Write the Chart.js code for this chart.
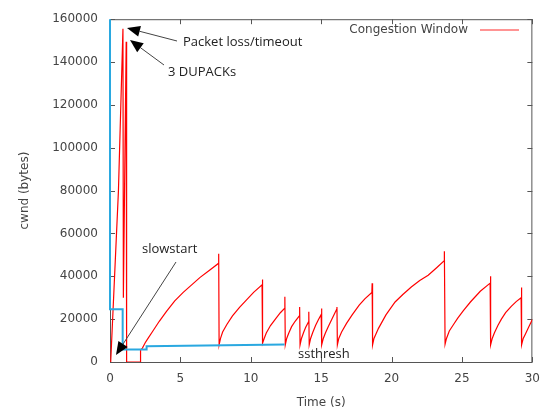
<!DOCTYPE html>
<html>
<head>
<meta charset="utf-8">
<script src="https://cdn.jsdelivr.net/npm/chart.js@4.4.0/dist/chart.umd.min.js"></script>
<style>
    html, body { margin: 0; padding: 0; background: #fff; }
    #wrap { width: 550px; height: 412px; }
</style>
</head>
<body>
<div id="wrap"><canvas id="cwndChart" width="550" height="412"></canvas></div>
<script>
// Congestion window trace (time in s, cwnd in bytes)
const cwndTime = [
    0.05, 0.6, 0.92, 0.95, 1.15, 1.18, 2.15, 2.17, 2.3, 2.38, 2.5,
    2.7, 3.0, 3.5, 4.0, 4.6, 5.2, 5.8, 6.4, 7.0, 7.7, 7.72, 7.75,
    7.85, 8.0, 8.3, 8.7, 9.2, 9.7, 10.2, 10.8, 10.82, 10.85,
    10.95, 11.1, 11.4, 11.8, 12.1, 12.4, 12.42, 12.45,
    12.55, 12.7, 12.9, 13.15, 13.45, 13.47, 13.5,
    13.6, 13.75, 13.9, 14.1, 14.12, 14.15,
    14.25, 14.4, 14.6, 14.8, 15.0, 15.02, 15.05,
    15.15, 15.3, 15.5, 15.8, 16.1, 16.12, 16.15,
    16.25, 16.45, 16.8, 17.2, 17.7, 18.1, 18.6, 18.62, 18.65,
    18.75, 19.07, 19.6, 20.25, 20.8, 21.4, 22.0, 22.6, 23.2, 23.73, 23.75, 23.8,
    23.9, 24.1, 24.4, 24.7, 25.1, 25.6, 26.3, 27.0, 27.02, 27.05,
    27.15, 27.3, 27.55, 27.8, 28.1, 28.5, 28.85, 29.2, 29.22, 29.25,
    29.35, 29.5, 29.75, 30.0
];
const cwndBytes = [
    0, 80000, 155500, 30000, 149500, 0, 0, 5500, 6500, 7500, 9000,
    11000, 14000, 19000, 23500, 28500, 32500, 36000, 39500, 42500, 46000, 50500, 8000,
    11000, 14000, 17500, 21500, 25500, 29000, 32500, 36000, 38500, 8800,
    11000, 13500, 17000, 20500, 23000, 25000, 30400, 8000,
    11000, 13500, 16500, 19000, 21500, 25700, 8000,
    11000, 13800, 16200, 18700, 23400, 8000,
    11000, 13800, 17000, 19700, 22100, 25000, 8000,
    11000, 13500, 16500, 20500, 24600, 25700, 8000,
    11000, 14000, 18000, 22000, 26500, 29500, 32500, 36800, 8000,
    11000, 15700, 22000, 28000, 31500, 35000, 38000, 40500, 44000, 47200, 51700, 8300,
    11000, 14500, 17500, 20500, 24000, 28000, 33000, 36800, 40000, 8000,
    11000, 13500, 17000, 20000, 23000, 26000, 28200, 30000, 34800, 8000,
    11000, 13000, 16500, 19800
];

// Slow start threshold
const ssthreshTime = [0, 0, 0.9, 0.9, 2.6, 2.6, 12.4];
const ssthreshBytes = [160000, 24600, 24600, 5800, 5800, 7300, 8200];

// Axes
const xTicks = [0, 5, 10, 15, 20, 25, 30];
const yTicks = [0, 20000, 40000, 60000, 80000, 100000, 120000, 140000, 160000];

const TICK_FONT = { family: 'DejaVu Sans', size: 12 };
const TEXT_GRAY = '#444444';
const NOTE_FONT = '13px "Open Sans"';

function toPoints(xs, ys) {
    return xs.map((x, i) => ({ x: x, y: ys[i] }));
}

// Draw an arrow with a filled head at (x2, y2)
function drawArrow(ctx, x1, y1, x2, y2) {
    const angle = Math.atan2(y2 - y1, x2 - x1);
    const headLen = 13;
    const headHalf = 5.5;
    const bx = x2 - headLen * Math.cos(angle);
    const by = y2 - headLen * Math.sin(angle);

    ctx.strokeStyle = '#444';
    ctx.lineWidth = 1;
    ctx.beginPath();
    ctx.moveTo(x1, y1);
    ctx.lineTo(bx, by);
    ctx.stroke();

    ctx.fillStyle = '#000';
    ctx.beginPath();
    ctx.moveTo(x2, y2);
    ctx.lineTo(bx + headHalf * Math.sin(angle), by - headHalf * Math.cos(angle));
    ctx.lineTo(bx - headHalf * Math.sin(angle), by + headHalf * Math.cos(angle));
    ctx.closePath();
    ctx.fill();
}

// Frame and inward ticks go under the lines, legend and notes on top
const decorPlugin = {
    id: 'decor',
    beforeDatasetsDraw(chart) {
        const ctx = chart.ctx;
        const area = chart.chartArea;
        const xs = chart.scales.x;
        const ys = chart.scales.y;
        ctx.save();

        ctx.strokeStyle = '#555';
        ctx.lineWidth = 1;
        ctx.strokeRect(area.left + 0.5, area.top + 0.5, area.right - area.left - 1, area.bottom - area.top);

        const tl = 5;
        ctx.beginPath();
        xTicks.forEach(v => {
            const px = Math.round(xs.getPixelForValue(v)) + 0.5;
            ctx.moveTo(px, area.bottom);
            ctx.lineTo(px, area.bottom - tl);
            ctx.moveTo(px, area.top);
            ctx.lineTo(px, area.top + tl);
        });
        yTicks.forEach(v => {
            const py = Math.round(ys.getPixelForValue(v)) + 0.5;
            ctx.moveTo(area.left, py);
            ctx.lineTo(area.left + tl, py);
            ctx.moveTo(area.right, py);
            ctx.lineTo(area.right - tl, py);
        });
        ctx.stroke();
        ctx.restore();
    },
    afterDraw(chart) {
        const ctx = chart.ctx;
        ctx.save();

        // legend (gnuplot style, top right)
        ctx.font = '12px "DejaVu Sans"';
        ctx.fillStyle = TEXT_GRAY;
        ctx.textAlign = 'right';
        ctx.textBaseline = 'middle';
        ctx.fillText('Congestion Window', 468, 30);
        ctx.strokeStyle = '#ff7070';
        ctx.lineWidth = 1.5;
        ctx.beginPath();
        ctx.moveTo(480, 30);
        ctx.lineTo(519, 30);
        ctx.stroke();

        // annotations
        ctx.font = NOTE_FONT;
        ctx.fillStyle = '#222';
        ctx.textAlign = 'left';
        ctx.fillText('Packet loss/timeout', 183, 42);
        ctx.fillText('3 DUPACKs', 168, 72);
        ctx.fillText('slowstart', 142, 249);
        ctx.fillText('ssthresh', 298, 354);

        drawArrow(ctx, 177, 41, 127, 28);
        drawArrow(ctx, 164, 65, 130, 40);
        drawArrow(ctx, 176, 262, 116, 355);

        ctx.restore();
    }
};

const ctx = document.getElementById('cwndChart').getContext('2d');
const chart = new Chart(ctx, {
    type: 'line',
    data: {
        datasets: [
            {
                label: 'ssthresh',
                data: toPoints(ssthreshTime, ssthreshBytes),
                borderColor: '#2aa8e0',
                borderWidth: 2,
                pointRadius: 0,
                tension: 0,
                clip: 2,
                order: 0
            },
            {
                label: 'Congestion Window',
                data: toPoints(cwndTime, cwndBytes),
                borderColor: 'rgb(255, 0, 0)',
                borderWidth: 1.2,
                pointRadius: 0,
                tension: 0,
                order: 1
            }
        ]
    },
    options: {
        responsive: false,
        animation: false,
        devicePixelRatio: 1,
        layout: { padding: { top: 18, right: 15, left: 0, bottom: 0 } },
        plugins: {
            legend: { display: false },
            tooltip: { enabled: false }
        },
        scales: {
            x: {
                type: 'linear',
                min: 0,
                max: 30,
                afterFit(scale) { scale.height = 50; },
                afterBuildTicks(scale) { scale.ticks = xTicks.map(v => ({ value: v })); },
                grid: { display: false, drawTicks: false },
                border: { display: false },
                ticks: { font: TICK_FONT, color: TEXT_GRAY, padding: 10, maxRotation: 0, callback: v => String(v) },
                title: { display: true, text: 'Time (s)', font: TICK_FONT, color: TEXT_GRAY, padding: { top: 0, bottom: 2 } }
            },
            y: {
                type: 'linear',
                min: 0,
                max: 160000,
                afterFit(scale) { scale.width = 110; },
                afterBuildTicks(scale) { scale.ticks = yTicks.map(v => ({ value: v })); },
                grid: { display: false, drawTicks: false },
                border: { display: false },
                ticks: { font: TICK_FONT, color: TEXT_GRAY, padding: 12, callback: v => String(v) },
                title: { display: true, text: 'cwnd (bytes)', font: TICK_FONT, color: TEXT_GRAY, padding: { top: 18, bottom: 0 } }
            }
        }
    },
    plugins: [decorPlugin]
});
</script>
</body>
</html>
